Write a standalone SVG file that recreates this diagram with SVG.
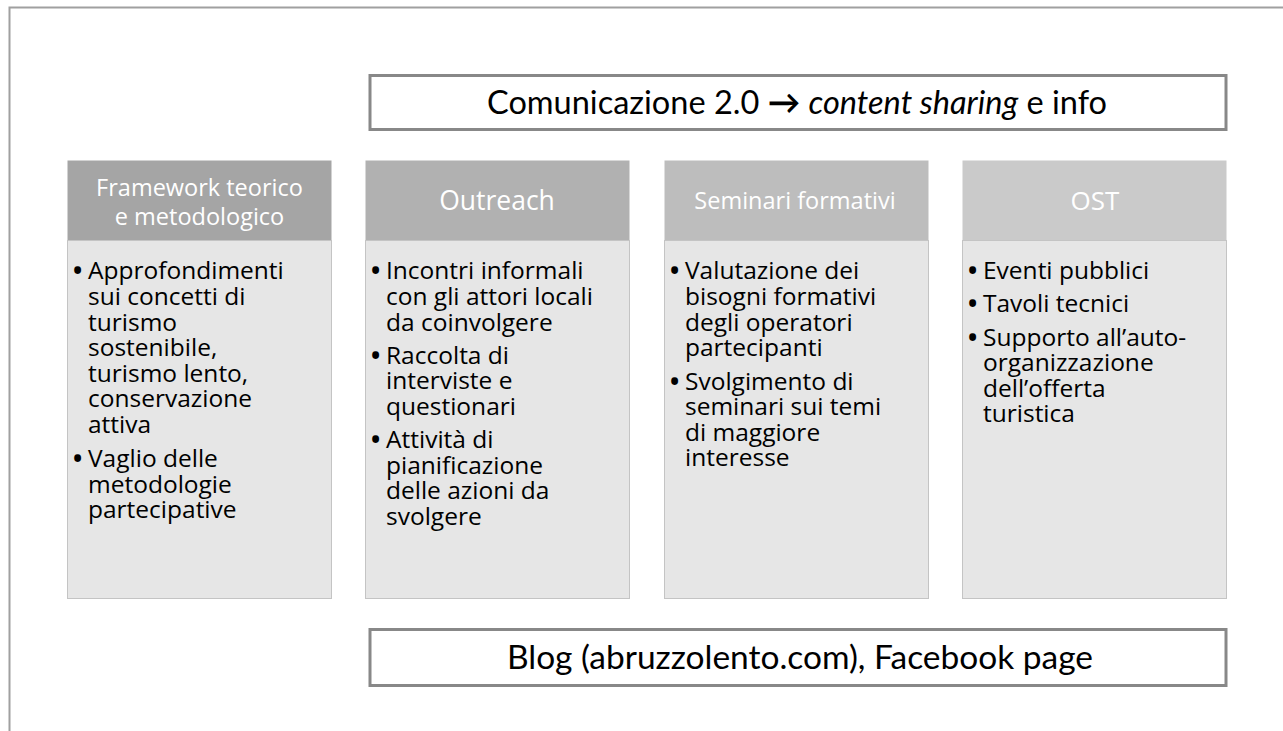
<svg xmlns="http://www.w3.org/2000/svg" width="1283" height="731" viewBox="0 0 1283 731">
<style>
.frame{fill:none;stroke:#a0a0a0;stroke-width:2}
.band{fill:#ffffff;stroke:#888888;stroke-width:3}
.body{fill:#e6e6e6;stroke:#c4c4c4;stroke-width:1}
.hd{font-family:"Open Sans","Noto Sans",sans-serif;fill:#ffffff;text-anchor:middle}
.bt{font-family:"Open Sans","Noto Sans",sans-serif;font-size:24.5px;fill:#000000}
.bu{font-weight:bold}
.big{font-family:Lato,"Liberation Sans",sans-serif;font-size:33px;fill:#000000}
</style>
<rect width="1283" height="731" fill="#ffffff"/>
<rect class="frame" x="9.5" y="7.5" width="1290" height="740"/>
<g id="top-band">
<rect class="band" x="370" y="75.5" width="856" height="54"/>
<text class="big" x="487" y="114" textLength="620" lengthAdjust="spacingAndGlyphs">Comunicazione 2.0 <tspan font-weight="bold">→</tspan> <tspan font-style="italic">content sharing</tspan> e info</text>
</g>
<g id="col-framework">
<rect x="67.5" y="160.5" width="264" height="80" fill="#a5a5a5"/>
<rect class="body" x="67.5" y="240.5" width="264" height="358"/>
<text class="hd" font-size="23.5" x="199.5" y="196">Framework teorico</text>
<text class="hd" font-size="23.5" x="199.5" y="225">e metodologico</text>
<text class="bt"><tspan class="bu" x="73" y="279">•</tspan><tspan x="88" y="279">Approfondimenti</tspan><tspan x="88" y="305">sui concetti di</tspan><tspan x="88" y="331">turismo</tspan><tspan x="88" y="356">sostenibile,</tspan><tspan x="88" y="382">turismo lento,</tspan><tspan x="88" y="407">conservazione</tspan><tspan x="88" y="433">attiva</tspan><tspan class="bu" x="73" y="467">•</tspan><tspan x="88" y="467">Vaglio delle</tspan><tspan x="88" y="493">metodologie</tspan><tspan x="88" y="518">partecipative</tspan></text>
</g>
<g id="col-outreach">
<rect x="365.5" y="160.5" width="264" height="80" fill="#b1b1b1"/>
<rect class="body" x="365.5" y="240.5" width="264" height="358"/>
<text class="hd" font-size="26.5" x="497" y="210">Outreach</text>
<text class="bt"><tspan class="bu" x="371" y="279">•</tspan><tspan x="386" y="279">Incontri informali</tspan><tspan x="386" y="305">con gli attori locali</tspan><tspan x="386" y="331">da coinvolgere</tspan><tspan class="bu" x="371" y="364">•</tspan><tspan x="386" y="364">Raccolta di</tspan><tspan x="386" y="389">interviste e</tspan><tspan x="386" y="415">questionari</tspan><tspan class="bu" x="371" y="448">•</tspan><tspan x="386" y="448">Attività di</tspan><tspan x="386" y="474">pianificazione</tspan><tspan x="386" y="499">delle azioni da</tspan><tspan x="386" y="525">svolgere</tspan></text>
</g>
<g id="col-seminari">
<rect x="664.5" y="160.5" width="264" height="80" fill="#bdbdbd"/>
<rect class="body" x="664.5" y="240.5" width="264" height="358"/>
<text class="hd" font-size="23.5" x="795" y="209">Seminari formativi</text>
<text class="bt"><tspan class="bu" x="670" y="279">•</tspan><tspan x="685" y="279">Valutazione dei</tspan><tspan x="685" y="305">bisogni formativi</tspan><tspan x="685" y="331">degli operatori</tspan><tspan x="685" y="356">partecipanti</tspan><tspan class="bu" x="670" y="390">•</tspan><tspan x="685" y="390">Svolgimento di</tspan><tspan x="685" y="415">seminari sui temi</tspan><tspan x="685" y="441">di maggiore</tspan><tspan x="685" y="466">interesse</tspan></text>
</g>
<g id="col-ost">
<rect x="962.5" y="160.5" width="264" height="80" fill="#cacaca"/>
<rect class="body" x="962.5" y="240.5" width="264" height="358"/>
<text class="hd" font-size="26" x="1095" y="210">OST</text>
<text class="bt"><tspan class="bu" x="968" y="279">•</tspan><tspan x="983" y="279">Eventi pubblici</tspan><tspan class="bu" x="968" y="312">•</tspan><tspan x="983" y="312">Tavoli tecnici</tspan><tspan class="bu" x="968" y="346">•</tspan><tspan x="983" y="346">Supporto all’auto-</tspan><tspan x="983" y="371">organizzazione</tspan><tspan x="983" y="397">dell’offerta</tspan><tspan x="983" y="422">turistica</tspan></text>
</g>
<g id="bottom-band">
<rect class="band" x="370" y="629.5" width="856" height="56"/>
<text class="big" x="507" y="669" textLength="586" lengthAdjust="spacingAndGlyphs">Blog (abruzzolento.com), Facebook page</text>
</g>
<g id="connectors"></g>
</svg>
